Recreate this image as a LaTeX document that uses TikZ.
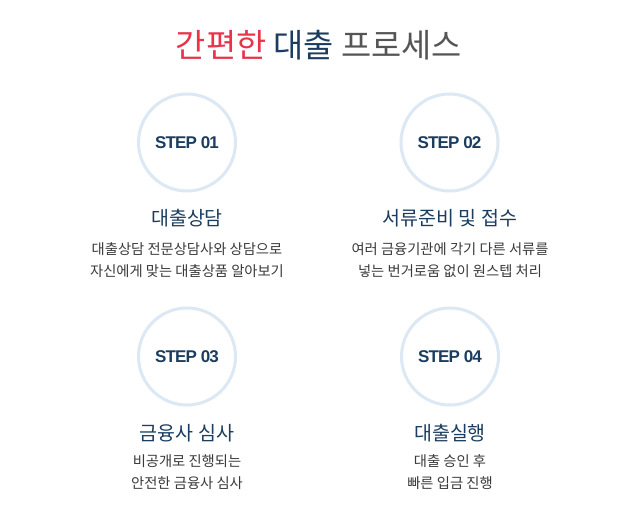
\documentclass[tikz,border=0pt]{standalone}
\usepackage{fontspec}
\newfontfamily\kr{Noto Sans CJK KR}
\newfontfamily\stepfont[LetterSpace=-5]{Liberation Sans}
\definecolor{navy}{HTML}{1B3D60}
\definecolor{titlered}{HTML}{E8334A}
\definecolor{titlegray}{HTML}{555555}
\definecolor{ring}{HTML}{DCE8F3}
\definecolor{desc}{HTML}{3A3A3A}
\tikzset{
  ringnode/.style={circle, draw=ring, line width=3pt, minimum size=97pt, inner sep=0pt, fill=white},
  steplabel/.style={font=\stepfont\bfseries\fontsize{17}{17}\selectfont, text=navy},
  steptitle/.style={font=\kr\fontsize{19.5}{19.5}\selectfont, text=navy},
  stepdesc/.style={font=\kr\fontsize{14.3}{22}\selectfont, text=desc, align=center}
}
\begin{document}
\begin{tikzpicture}[x=1pt,y=-1pt]
\useasboundingbox[fill=white] (0,0) rectangle (640,521);
\node[font=\kr\fontsize{32.8}{32.8}\selectfont] (title) at (319,45)
  {\textcolor{titlered}{간편한} \textcolor{navy}{대출} \textcolor{titlegray}{프로세스}};
% step 1
\node[ringnode] (c1) at (187,142.5) {};
\node[steplabel] (s1) at (c1) {STEP 01};
\node[steptitle] (t1) at (187,218) {대출상담};
\node[stepdesc] (d1) at (187,260) {대출상담 전문상담사와 상담으로\\자신에게 맞는 대출상품 알아보기};
% step 2
\node[ringnode] (c2) at (449.5,142.5) {};
\node[steplabel] (s2) at (c2) {STEP 02};
\node[steptitle] (t2) at (450,218) {서류준비 및 접수};
\node[stepdesc] (d2) at (450,260) {여러 금융기관에 각기 다른 서류를\\넣는 번거로움 없이 원스텝 처리};
% step 3
\node[ringnode] (c3) at (187,356.5) {};
\node[steplabel] (s3) at (c3) {STEP 03};
\node[steptitle] (t3) at (187,433) {금융사 심사};
\node[stepdesc] (d3) at (187,472) {비공개로 진행되는\\안전한 금융사 심사};
% step 4
\node[ringnode] (c4) at (450,356.5) {};
\node[steplabel] (s4) at (c4) {STEP 04};
\node[steptitle] (t4) at (450,433) {대출실행};
\node[stepdesc] (d4) at (450,472) {대출 승인 후\\빠른 입금 진행};
\end{tikzpicture}
\end{document}
